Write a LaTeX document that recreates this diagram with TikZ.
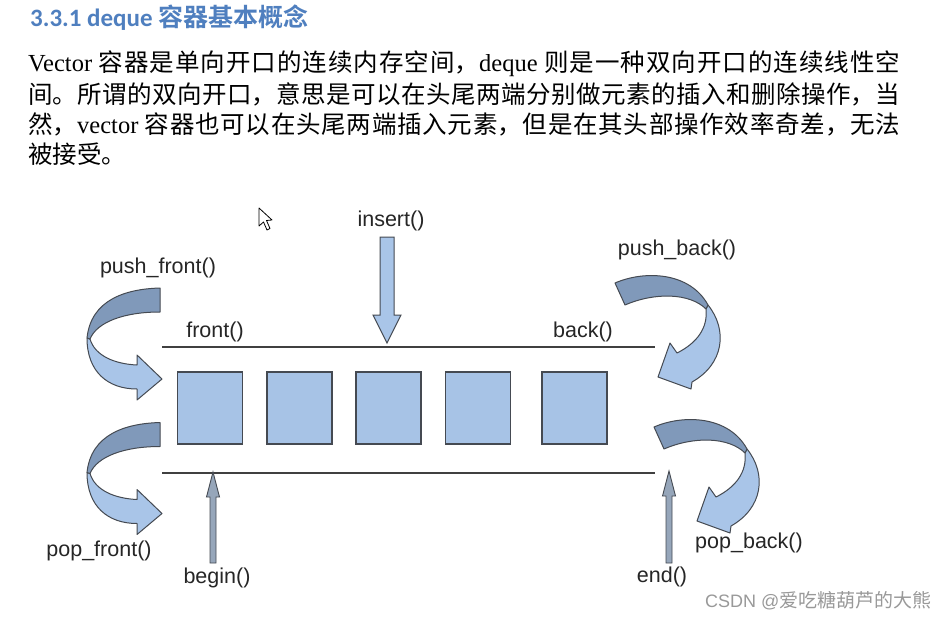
\documentclass[tikz,border=0pt]{standalone}
\usepackage{fontspec}
\setmainfont{Liberation Serif}
\newfontfamily\cjk{Noto Sans CJK SC}
\newfontfamily\cjkb{Noto Sans CJK SC Bold}
\newfontfamily\lab{Liberation Sans}
\newfontfamily\ttl{Carlito}
\XeTeXlinebreaklocale "zh"
\XeTeXlinebreakskip=0pt plus 6pt
\newcommand\justline[1]{\parbox{872pt}{\parindent=0pt\parfillskip=0pt\tolerance=9999\relax #1}}
\definecolor{titleblue}{HTML}{4F7FBF}
\definecolor{boxblue}{HTML}{A7C3E6}
\definecolor{bandlight}{HTML}{A9C5E8}
\definecolor{banddark}{HTML}{8099BA}
\definecolor{edge}{HTML}{454A52}
\definecolor{thinfill}{HTML}{96A6BA}
\begin{document}
\begin{tikzpicture}[x=1pt,y=-1pt,
  para/.style={anchor=west,inner sep=0pt,font=\fontsize{24.5}{30}\selectfont},
  lbl/.style={inner sep=0pt,font=\lab\fontsize{21.5}{24}\selectfont,text=black!85},
  cell/.style={draw=edge,line width=1.2pt,fill=boxblue,minimum width=65pt,minimum height=72pt,inner sep=0pt},
  rail/.style={draw=black!75,line width=1.4pt},
  lightband/.style={fill=bandlight,draw=edge,line width=1pt,line join=round},
  darkband/.style={fill=banddark,draw=edge,line width=1pt,line join=round},
  thinarrow/.style={fill=thinfill,draw=edge,line width=0.9pt,line join=miter},
  blockarrow/.style={fill=bandlight,draw=edge,line width=1pt,line join=miter}]
\useasboundingbox (0,0) rectangle (952,621);
\fill[white] (0,0) rectangle (952,621);

% title
\node[anchor=west,inner sep=0pt,text=titleblue] (title) at (30,18)
  {{\ttl\bfseries\fontsize{25}{28}\selectfont 3.3.1 deque }{\cjkb\fontsize{25}{28}\selectfont 容器基本概念}};

% paragraph
\node[para] (p1) at (28,64) {\justline{Vector {\cjk 容器是单向开口的连续内存空间，}deque {\cjk 则是一种双向开口的连续线性空}}};
\node[para] (p2) at (28,94) {\justline{\cjk 间。所谓的双向开口，意思是可以在头尾两端分别做元素的插入和删除操作，当}};
\node[para] (p3) at (28,124) {\justline{{\cjk 然，}vector {\cjk 容器也可以在头尾两端插入元素，但是在其头部操作效率奇差，无法}}};
\node[para] (p4) at (28,154) {\cjk 被接受。};

% rails
\coordinate (tl) at (162,347);
\coordinate (tr) at (655,347);
\coordinate (bl) at (162,473);
\coordinate (br) at (655,473);
\draw[rail] (tl) -- (tr);
\draw[rail] (bl) -- (br);

% cells
\node[cell] (c1) at (210,408) {};
\node[cell] (c2) at (299.5,408) {};
\node[cell] (c3) at (388.5,408) {};
\node[cell] (c4) at (478,408) {};
\node[cell] (c5) at (574.5,408) {};

% labels
\node[lbl] (ins) at (391,221) {insert()};
\node[lbl] (fr) at (215,332) {front()};
\node[lbl] (bk) at (583,332) {back()};
\node[lbl] (pf) at (158,268) {push\_front()};
\node[lbl] (opf) at (99,551) {pop\_front()};
\node[lbl] (bg) at (217,578) {begin()};
\node[lbl] (en) at (662,577) {end()};
\node[lbl] (pb) at (677,250) {push\_back()};
\node[lbl] (opb) at (749,543) {pop\_back()};

% insert arrow
\path[blockarrow] (380,237) -- (394,237) -- (394,315) -- (401,315) -- (387,343) -- (373,315) -- (380,315) -- cycle;

% begin / end arrows
\path[thinarrow] (210,563) -- (210,497) -- (206.5,497) -- (213,472) -- (219.5,497) -- (216,497) -- (216,563) -- cycle;
\path[thinarrow] (666,563) -- (666,496) -- (662.5,496) -- (669,471) -- (675.5,496) -- (672,496) -- (672,563) -- cycle;

% front curved arrows
\foreach \dy in {0,134.5}{
\begin{scope}[shift={(0,\dy)}]
\path[lightband] (87,338) .. controls (87,372) and (108,389) .. (137,389) -- (137,400) -- (162,379) -- (137,355) -- (137,365) .. controls (115,364) and (95,356) .. (90,339) -- cycle;
\path[darkband] (160,288) .. controls (125,289) and (91,300) .. (87,338) -- (90,339) .. controls (97,322) and (124,312) .. (160,312) -- cycle;
\end{scope}}

% back curved arrows
\foreach \dx/\dy in {0/0,39/144}{
\begin{scope}[shift={(\dx,\dy)}]
\path[lightband] (708,305) .. controls (728,330) and (724,364) .. (692,382) -- (691,389) -- (658,377) -- (670,343) -- (677,353) .. controls (697,343) and (708,328) .. (706,309) -- cycle;
\path[darkband] (615,283) .. controls (645,270) and (690,272) .. (708,305) -- (706,309) .. controls (690,293) and (655,292) .. (625,305) -- cycle;
\end{scope}}

% mouse cursor
\path[fill=white,draw=black,line width=0.8pt,line join=round] (259,208) -- (259,226) -- (263.5,222) -- (267,230) -- (270,228.5) -- (266.5,220.5) -- (272,220) -- cycle;

% watermark
\node[anchor=west,inner sep=0pt,text=black!40] (wm) at (705,601)
  {{\lab\fontsize{18}{20}\selectfont CSDN @}{\cjk\fontsize{19}{20}\selectfont 爱吃糖葫芦的大熊}};
\end{tikzpicture}
\end{document}
